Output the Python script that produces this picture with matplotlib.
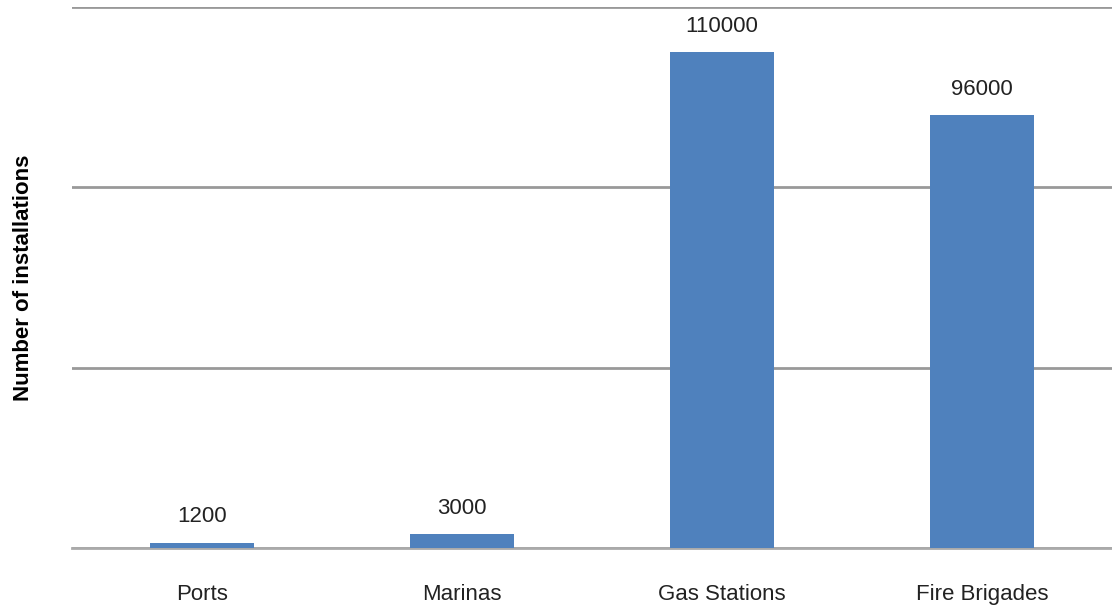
import matplotlib.pyplot as plt

categories = ["Ports", "Marinas", "Gas Stations", "Fire Brigades"]
installations = [1200, 3000, 110000, 96000]

plt.rcParams["font.family"] = ["Liberation Sans", "DejaVu Sans"]

fig = plt.figure(figsize=(11.12, 6.12), dpi=100)
ax = fig.add_axes([72 / 1112, 64 / 612, 1 - 72 / 1112, (548 - 7) / 612])

x = range(len(categories))
bars = ax.bar(x, installations, width=0.4, color="#4F81BD", zorder=3)

for bar, val in zip(bars, installations):
    ax.annotate(str(val), (bar.get_x() + bar.get_width() / 2, val),
                xytext=(0, 11), textcoords="offset points",
                ha="center", va="bottom", fontsize=16, color="#222222")

ax.set_xlim(-0.5, len(categories) - 0.5)
ax.set_ylim(0, 120000)
ax.set_yticks([0, 40000, 80000, 120000])
ax.set_yticklabels([])
ax.yaxis.grid(True, color="#999999", linewidth=2, zorder=0)
ax.tick_params(axis="y", length=0)
ax.tick_params(axis="x", length=0, pad=26, labelsize=16, labelcolor="#222222")
ax.set_xticks(list(x))
ax.set_xticklabels(categories)

for side in ["top", "right", "left"]:
    ax.spines[side].set_visible(False)
ax.spines["bottom"].set_color("#aaaaaa")
ax.spines["bottom"].set_linewidth(2)

ax.set_ylabel("Number of installations", fontsize=16, fontweight="bold", labelpad=24)

fig.savefig("out.png", dpi=100)
